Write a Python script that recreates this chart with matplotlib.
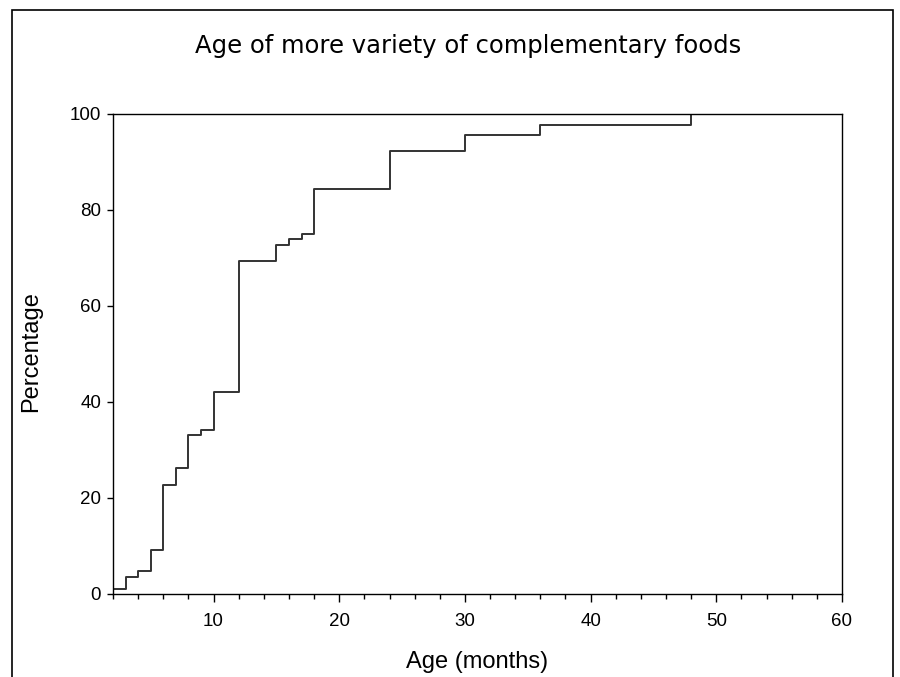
import matplotlib.pyplot as plt
from matplotlib.patches import Rectangle
from matplotlib.ticker import MultipleLocator

# cumulative percentage by age (months), step starts
ages = [2, 3, 4, 5, 6, 7, 8, 9, 10, 12, 15, 16, 17, 18, 24, 30, 36, 48]
pct = [1.0, 3.5, 4.7, 9.2, 22.7, 26.2, 33.1, 34.2, 42.1, 69.4, 72.8, 74.0, 75.1, 84.3, 92.3, 95.6, 97.8, 100.0]

fig = plt.figure(figsize=(9, 6.77), dpi=100)
ax = fig.add_axes([113/900, 83/677, 729/900, 480/677])

ax.step(ages, pct, where='post', color='#333333', lw=1.4)

ax.set_xlim(2, 60)
ax.set_ylim(0, 100)
ax.xaxis.set_major_locator(MultipleLocator(10))
ax.xaxis.set_minor_locator(MultipleLocator(2))
ax.yaxis.set_major_locator(MultipleLocator(20))
ax.tick_params(axis='x', which='major', direction='out', length=6, width=1, pad=8)
ax.tick_params(axis='x', which='minor', direction='out', length=3.5, width=1)
ax.tick_params(axis='y', which='major', direction='out', length=4.5, width=1, pad=4)
for lab in ax.get_xticklabels() + ax.get_yticklabels():
    lab.set_family('Liberation Sans')
    lab.set_fontsize(13.5)
for s in ax.spines.values():
    s.set_linewidth(1)

fig.text(468/900, 1 - 46/677, 'Age of more variety of complementary foods',
         ha='center', va='center', fontsize=17.5, family='DejaVu Sans')
fig.text(477/900, 1 - 662/677, 'Age (months)', ha='center', va='center',
         fontsize=17, family='Liberation Sans')
fig.text(31/900, 1 - 352/677, 'Percentage', ha='center', va='center',
         rotation=90, fontsize=17, family='Liberation Sans')

# outer frame of the original figure
fig.patches.append(Rectangle((12/900, -0.05), 881/900, 1.05 - 10/677,
                             transform=fig.transFigure, fill=False,
                             edgecolor='black', lw=1.2))

fig.savefig('out.png', dpi=100)
